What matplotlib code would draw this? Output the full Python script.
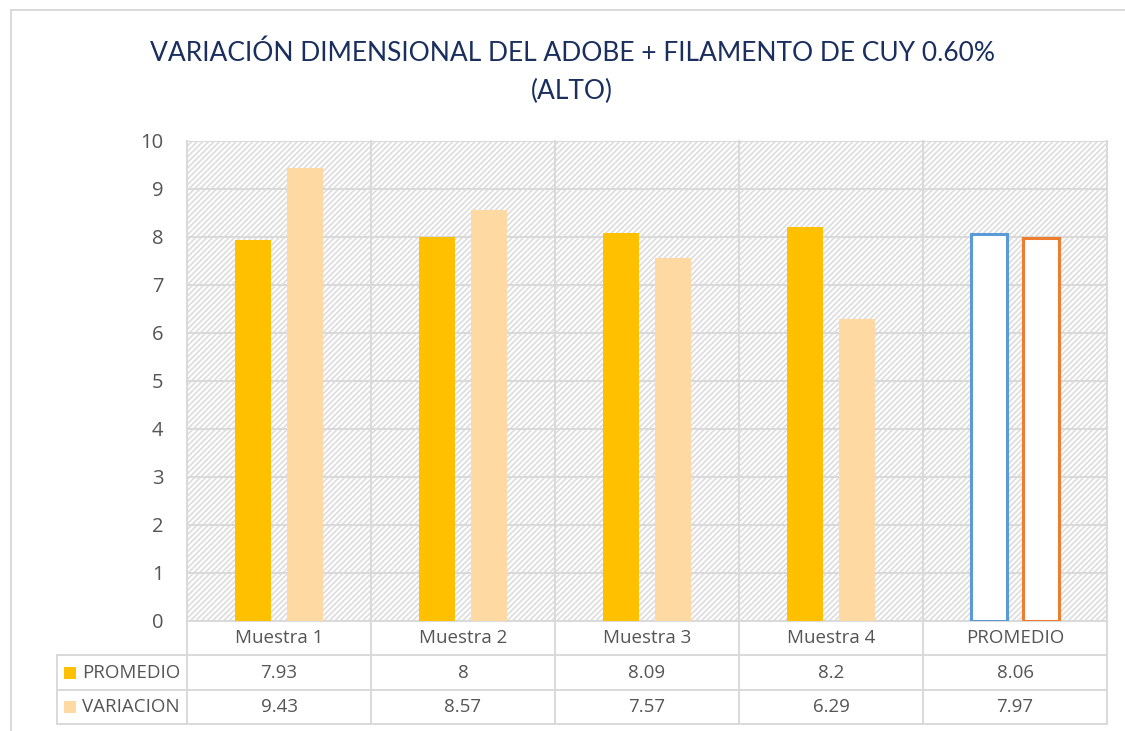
import matplotlib
matplotlib.use("Agg")
import matplotlib.pyplot as plt
from matplotlib.patches import Rectangle
from matplotlib.lines import Line2D

CATEGORIES = ["Muestra 1", "Muestra 2", "Muestra 3", "Muestra 4", "PROMEDIO"]
PROMEDIO = [7.93, 8, 8.09, 8.2, 8.06]
VARIACION = [9.43, 8.57, 7.57, 6.29, 7.97]
PROMEDIO_LABELS = ["7.93", "8", "8.09", "8.2", "8.06"]
VARIACION_LABELS = ["9.43", "8.57", "7.57", "6.29", "7.97"]
SERIES_NAMES = ["PROMEDIO", "VARIACION"]
TITLE = "VARIACIÓN DIMENSIONAL DEL ADOBE + FILAMENTO DE CUY 0.60%\n(ALTO)"

C_PROM = "#FFC000"
C_VAR = "#FED9A1"
GRID = "#D9D9D9"
TXT = "#555555"

W, H = 1125, 731
fig = plt.figure(figsize=(W / 100, H / 100), dpi=100)
plt.rcParams["font.family"] = ["Open Sans", "DejaVu Sans"]

# plot area in pixels
x0, x1, ytop, ybot = 187, 1107, 141, 621
ax = fig.add_axes([x0 / W, (H - ybot) / H, (x1 - x0) / W, (ybot - ytop) / H])
ax.set_xlim(-0.5, len(CATEGORIES) - 0.5)
ax.set_ylim(0, 10)

# hatched background
plt.rcParams["hatch.linewidth"] = 1.3
bg = Rectangle((0, 0), 1, 1, transform=ax.transAxes, facecolor="white",
               edgecolor="#DEDEDE", hatch="//////", linewidth=0, zorder=0)
ax.add_patch(bg)

for s in ax.spines.values():
    s.set_visible(False)
ax.set_yticks(range(0, 11))
ax.tick_params(axis="y", length=0, pad=17, labelsize=14.5, labelcolor=TXT)
ax.set_xticks([])
ax.yaxis.grid(True, color=GRID, linewidth=1.4, zorder=1)
ax.set_axisbelow(True)

width = 0.196
off = 0.142
n = len(CATEGORIES)
for i in range(n):
    if i < n - 1:
        ax.bar(i - off, PROMEDIO[i], width, color=C_PROM, zorder=3)
        ax.bar(i + off, VARIACION[i], width, color=C_VAR, zorder=3)
    else:
        ax.bar(i - off, PROMEDIO[i], width, facecolor="white", edgecolor="#5B9BD5",
               linewidth=2.2, zorder=3)
        ax.bar(i + off, VARIACION[i], width, facecolor="white", edgecolor="#ED7D31",
               linewidth=2.2, zorder=3)

# data table below the axis
upp = 10 / (ybot - ytop)  # data units per pixel
r1 = -(655 - ybot) * upp
r2 = -(690 - ybot) * upp
r3 = -(724 - ybot) * upp
cw = (x1 - x0) / n  # pixels per category
xleg = -0.5 - (x0 - 57) / cw

def line(xs, ys):
    ax.add_line(Line2D(xs, ys, color=GRID, linewidth=1.4, clip_on=False, zorder=2))

for k in range(n + 1):
    line([k - 0.5, k - 0.5], [10, r3])
line([xleg, xleg], [r1, r3])
for yy in (0, r1, r2, r3):
    line([xleg if yy != 0 else -0.5, n - 0.5], [yy, yy])

fs = 13.5
for i, cat in enumerate(CATEGORIES):
    ax.text(i, (0 + r1) / 2, cat, ha="center", va="center", fontsize=fs, color=TXT)
    ax.text(i, (r1 + r2) / 2, PROMEDIO_LABELS[i], ha="center", va="center", fontsize=fs, color=TXT)
    ax.text(i, (r2 + r3) / 2, VARIACION_LABELS[i], ha="center", va="center", fontsize=fs, color=TXT)

sq = 12 * upp
sqw = 12 / cw
sqx = -0.5 - (x0 - 64) / cw
for (ya, yb), name, col in zip([(r1, r2), (r2, r3)], SERIES_NAMES, [C_PROM, C_VAR]):
    yc = (ya + yb) / 2
    ax.add_patch(Rectangle((sqx, yc - sq / 2), sqw, sq, facecolor=col, edgecolor="none",
                           clip_on=False, zorder=3))
    ax.text(-0.5 - (x0 - 82) / cw, yc, name, ha="left", va="center", fontsize=fs, color=TXT)

# chart border (top and left)
fig.add_artist(Line2D([11 / W, 11 / W], [0, 1 - 10 / H], color=GRID, linewidth=1.4))
fig.add_artist(Line2D([11 / W, 1], [1 - 10 / H, 1 - 10 / H], color=GRID, linewidth=1.4))

fig.text(572 / W, 1 - 72 / H, TITLE, ha="center", va="center", fontsize=19,
         color="#1A2F5E", family=["Liberation Sans Narrow", "Lato", "DejaVu Sans"],
         linespacing=1.62)

fig.savefig("out.png", dpi=100)
